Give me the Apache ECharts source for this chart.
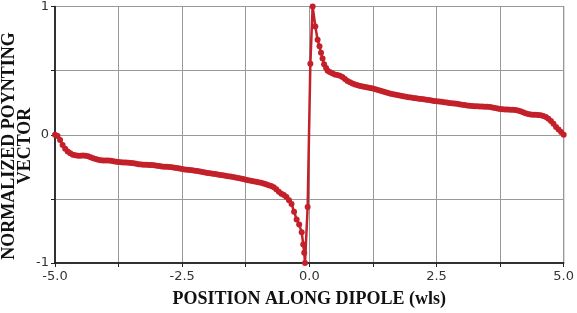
<!DOCTYPE html>
<html>
<head>
<meta charset="utf-8">
<script src="https://cdn.jsdelivr.net/npm/echarts@6/dist/echarts.min.js"></script>
<style>html,body{margin:0;padding:0;background:#fff}#c{width:577px;height:313px}</style>
</head>
<body>
<div id="c"></div>
<script>
var xTickLabels = ['-5.0', '-2.5', '0.0', '2.5', '5.0'];
var yTickLabels = ['-1', '0', '1'];
var xTitle = 'POSITION ALONG DIPOLE (wls)';
var yTitle = ['NORMALIZED POYNTING', 'VECTOR'];

var positions = [
-5.0,-4.95,-4.9,-4.85,-4.8,-4.75,-4.7,-4.65,-4.6,-4.55,-4.5,-4.45,-4.4,-4.35,-4.3,-4.25,-4.2,-4.15,-4.1,-4.05,
-4.0,-3.95,-3.9,-3.85,-3.8,-3.75,-3.7,-3.65,-3.6,-3.55,-3.5,-3.45,-3.4,-3.35,-3.3,-3.25,-3.2,-3.15,-3.1,-3.05,
-3.0,-2.95,-2.9,-2.85,-2.8,-2.75,-2.7,-2.65,-2.6,-2.55,-2.5,-2.45,-2.4,-2.35,-2.3,-2.25,-2.2,-2.15,-2.1,-2.05,
-2.0,-1.95,-1.9,-1.85,-1.8,-1.75,-1.7,-1.65,-1.6,-1.55,-1.5,-1.45,-1.4,-1.35,-1.3,-1.25,-1.2,-1.15,-1.1,-1.05,
-1.0,-0.95,-0.9,-0.85,-0.8,-0.75,-0.7,-0.65,-0.6,-0.55,-0.5,-0.45,-0.4,-0.35,-0.3,-0.25,-0.2,-0.15,-0.12,-0.1,
-0.085,-0.033,0.02,0.065,0.118,0.163,0.2,0.23,0.26,0.29,0.33,0.36,0.4,0.45,0.5,0.55,0.6,0.65,0.7,0.75,
0.8,0.85,0.9,0.95,1.0,1.05,1.1,1.15,1.2,1.25,1.3,1.35,1.4,1.45,1.5,1.55,1.6,1.65,1.7,1.75,
1.8,1.85,1.9,1.95,2.0,2.05,2.1,2.15,2.2,2.25,2.3,2.35,2.4,2.45,2.5,2.55,2.6,2.65,2.7,2.75,
2.8,2.85,2.9,2.95,3.0,3.05,3.1,3.15,3.2,3.25,3.3,3.35,3.4,3.45,3.5,3.55,3.6,3.65,3.7,3.75,
3.8,3.85,3.9,3.95,4.0,4.05,4.1,4.15,4.2,4.25,4.3,4.35,4.4,4.45,4.5,4.55,4.6,4.65,4.7,4.75,
4.8,4.85,4.9,4.95,5.0
];
var poynting = [
0,-0.01,-0.04,-0.08,-0.11,-0.13,-0.145,-0.155,-0.16,-0.163,-0.163,-0.162,-0.163,-0.168,-0.175,-0.183,-0.19,-0.195,-0.198,-0.2,
-0.2,-0.201,-0.203,-0.206,-0.21,-0.213,-0.215,-0.216,-0.217,-0.218,-0.22,-0.222,-0.226,-0.23,-0.232,-0.233,-0.234,-0.235,-0.236,-0.238,
-0.241,-0.244,-0.247,-0.249,-0.25,-0.252,-0.254,-0.257,-0.26,-0.264,-0.268,-0.271,-0.273,-0.275,-0.277,-0.28,-0.283,-0.286,-0.29,-0.294,
-0.298,-0.301,-0.304,-0.307,-0.31,-0.313,-0.316,-0.319,-0.323,-0.326,-0.33,-0.334,-0.338,-0.342,-0.346,-0.35,-0.354,-0.358,-0.362,-0.366,
-0.371,-0.375,-0.38,-0.386,-0.393,-0.4,-0.41,-0.425,-0.445,-0.46,-0.47,-0.485,-0.51,-0.54,-0.6,-0.66,-0.7,-0.76,-0.855,-0.92,
-1.0,-0.563,0.553,1.0,0.845,0.74,0.69,0.64,0.595,0.55,0.52,0.5,0.49,0.48,0.47,0.465,0.46,0.45,0.435,0.42,
0.41,0.4,0.392,0.385,0.38,0.376,0.372,0.368,0.364,0.36,0.355,0.349,0.343,0.337,0.331,0.325,0.319,0.315,0.311,0.308,
0.305,0.301,0.297,0.293,0.29,0.287,0.284,0.281,0.279,0.276,0.273,0.27,0.267,0.264,0.261,0.259,0.257,0.254,0.251,0.248,
0.246,0.244,0.241,0.237,0.234,0.231,0.229,0.227,0.225,0.223,0.222,0.221,0.22,0.219,0.218,0.216,0.213,0.209,0.205,0.201,
0.199,0.197,0.196,0.195,0.194,0.193,0.19,0.184,0.176,0.168,0.162,0.158,0.156,0.155,0.154,0.152,0.147,0.138,0.125,0.108,
0.085,0.06,0.04,0.022,0
];

var seriesData = positions.map(function (x, i) { return [x, poynting[i]]; });

var chart = echarts.init(document.getElementById('c'), null, {renderer: 'canvas'});
chart.setOption({
  animation: false,
  backgroundColor: '#fff',
  grid: {left: 55, right: 13, top: 5, bottom: 50, show: true, borderColor: '#222', borderWidth: 1, backgroundColor: 'transparent'},
  xAxis: {
    type: 'value', min: -5, max: 5, interval: 1.25,
    axisLine: {show: true, onZero: false, lineStyle: {color: '#111', width: 1.5}},
    axisTick: {show: true, length: 4, lineStyle: {color: '#222'}},
    splitLine: {show: true, lineStyle: {color: '#999', width: 1}},
    axisLabel: {
      color: '#333', fontFamily: 'DejaVu Sans', fontSize: 13, margin: 7,
      formatter: function (v) {
        var idx = Math.round((v + 5) / 2.5);
        return (Math.abs((v + 5) / 2.5 - idx) < 1e-6) ? xTickLabels[idx] : '';
      }
    },
    name: xTitle, nameLocation: 'middle', nameGap: 27,
    nameTextStyle: {fontFamily: 'Liberation Serif', fontWeight: 'bold', fontSize: 18, color: '#111'}
  },
  yAxis: {
    type: 'value', min: -1, max: 1, interval: 0.5,
    axisLine: {show: true, onZero: false, lineStyle: {color: '#111', width: 1.5}},
    axisTick: {show: true, length: 4, lineStyle: {color: '#222'}},
    splitLine: {show: true, lineStyle: {color: '#999', width: 1}},
    axisLabel: {
      color: '#333', fontFamily: 'DejaVu Sans', fontSize: 13, margin: 6,
      formatter: function (v) {
        var idx = Math.round(v + 1);
        return (Math.abs(v + 1 - idx) < 1e-6) ? yTickLabels[idx] : '';
      }
    }
  },
  graphic: [{
    type: 'text', x: 17, y: 146, rotation: Math.PI / 2,
    style: {
      text: yTitle.join('\n'), align: 'center', verticalAlign: 'middle',
      fontFamily: 'Liberation Serif', fontWeight: 'bold', fontSize: 18, lineHeight: 16, fill: '#111'
    }
  }],
  series: [{
    type: 'line', data: seriesData,
    color: '#c4202a',
    lineStyle: {color: '#c4202a', width: 2.5},
    symbol: 'circle', symbolSize: 6, showAllSymbol: true,
    itemStyle: {color: '#c4202a', borderWidth: 0},
    clip: false
  }]
});
</script>
</body>
</html>
